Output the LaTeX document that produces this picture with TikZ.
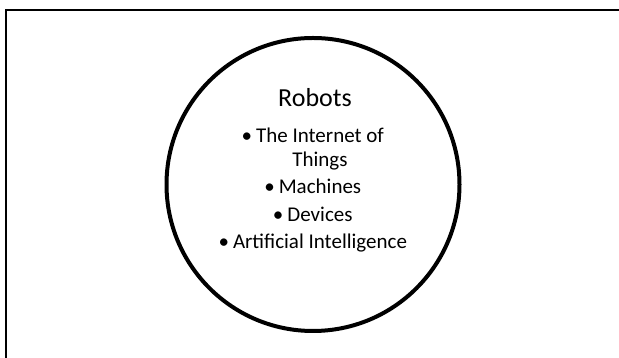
\documentclass[tikz,border=0pt]{standalone}
\usepackage{fontspec}
\setmainfont{Carlito}
\tikzset{
    frame/.style={draw=black, line width=2pt},
    ring/.style={circle, draw, line width=4pt, inner sep=0pt, minimum size=293pt},
    heading/.style={font=\fontsize{26}{30}\selectfont, anchor=base},
    item/.style={font=\fontsize{21}{24}\selectfont, align=center, anchor=base},
}
\newcommand{\bul}{\llap{\textbullet\hspace{4pt}}}

\begin{document}
\begin{tikzpicture}[x=1pt, y=1pt]
    \useasboundingbox (0,0) rectangle (619,358);
    \coordinate (fb) at (6,0);
    \coordinate (fc) at (6,348);
    \coordinate (fr) at (619,348);
    \draw[frame] (fb) -- (fc) -- (fr);
    \node[ring] (circ) at (313,173.5) {};
    \node[heading] (robots) at (315,251) {Robots};
    % base of a two-line node sits on its last line
    \node[item] (iot) at (320,191) {\bul The Internet of\\Things};
    \node[item] (mach) at (320,164) {\bul Machines};
    \node[item] (dev) at (320,136) {\bul Devices};
    \node[item] (ai) at (320,109) {\bul Artificial Intelligence};
\end{tikzpicture}
\end{document}
